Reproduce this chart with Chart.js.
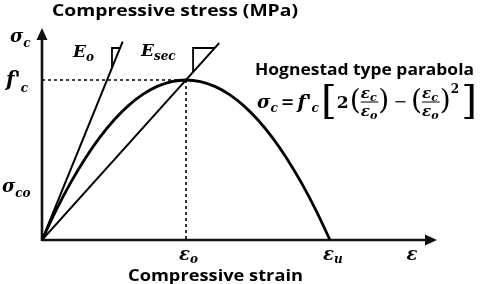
<!DOCTYPE html>
<html><head><meta charset="utf-8">
<script src="https://cdn.jsdelivr.net/npm/chart.js@4.4.1/dist/chart.umd.min.js"></script>
<style>html,body{margin:0;padding:0;background:#fff}#wrap{width:480px;height:284px}</style>
</head><body><div id="wrap"><canvas id="c" width="480" height="284"></canvas></div>
<script>
// ---- data (normalised: strain / eps_o , stress / f'c) ----
const strain = [0,0.1,0.2,0.3,0.4,0.5,0.6,0.7,0.8,0.9,1.0,1.1,1.2,1.3,1.4,1.5,1.6,1.7,1.8,1.9,2.0];
const stress = [0,0.19,0.36,0.51,0.64,0.75,0.84,0.91,0.96,0.99,1.0,0.99,0.96,0.91,0.84,0.75,0.64,0.51,0.36,0.19,0];
const tangentX = [0, 0.56];
const tangentY = [0, 1.24];
const secantX = [0, 1.23];
const secantY = [0, 1.23];
const peakX = [0, 1, 1];
const peakY = [1, 1, 0];
const e0TriX = [0.544, 0.486, 0.486];
const e0TriY = [1.2, 1.2, 1.071];
const secTriX = [1.2, 1.049, 1.049];
const secTriY = [1.2, 1.2, 1.049];
const axisMaxX = 2.743;
const axisMaxY = 1.325;
// axis labels: [main, subscript, value]
const yLabels = [['σ','c',1.27],["f'",'c',1.0],['σ','co',0.34]];
const xLabels = [['ε','o',1.0],['ε','u',2.0],['ε','',2.58]];
const titleY = 'Compressive stress (MPa)';
const titleX = 'Compressive strain';
const curveName = 'Hognestad type parabola';

const MATH = '"DejaVu Serif", "Liberation Serif", serif';
const SANS = '"Open Sans", "Noto Sans", sans-serif';
const pts = (xs, ys) => xs.map((v, i) => ({x: v, y: ys[i]}));

function fitText(ctx, text, left, right, baseline, font) {
  ctx.font = font;
  const w = ctx.measureText(text).width;
  ctx.save();
  ctx.translate(left, baseline);
  ctx.scale((right - left) / w, 1);
  ctx.fillText(text, 0, 0);
  ctx.restore();
}
function sym(ctx, x, y, main, sub, size, subSize, subDy) {
  ctx.font = `italic bold ${size}px ${MATH}`;
  ctx.fillText(main, x, y);
  const w = ctx.measureText(main).width;
  if (sub) {
    ctx.font = `italic bold ${subSize}px ${MATH}`;
    ctx.fillText(sub, x + w, y + subDy);
    return w + ctx.measureText(sub).width;
  }
  return w;
}

function drawEquation(ctx, left, right, base) {
  const bi = s => `italic bold ${s}px ${MATH}`;
  const b = s => `bold ${s}px ${MATH}`;
  const n = s => `${s}px ${MATH}`;
  const items = [
    {t:'σ', f:bi(18), dy:0}, {t:'c', f:bi(12), dy:4}, {gap:3},
    {t:'=', f:b(16), dy:-1}, {gap:3},
    {t:"f'", f:bi(19), dy:0}, {t:'c', f:bi(12), dy:4}, {gap:2},
    {t:'[', f:n(40), dy:5}, {t:'2', f:b(17), dy:0}, {gap:1},
    {t:'(', f:n(28), dy:1}, {frac:true}, {t:')', f:n(28), dy:1}, {gap:4},
    {t:'−', f:n(16), dy:-1}, {gap:4},
    {t:'(', f:n(28), dy:1}, {frac:true}, {t:')', f:n(28), dy:1},
    {t:'2', f:b(12), dy:-15}, {gap:2},
    {t:']', f:n(40), dy:5}
  ];
  const fracW = () => {
    ctx.font = bi(15); const e = ctx.measureText('ε').width;
    ctx.font = bi(11); const c = ctx.measureText('c').width, o = ctx.measureText('o').width;
    return e + Math.max(c, o) + 1;
  };
  let total = 0;
  for (const it of items) {
    if (it.gap) it.w = it.gap;
    else if (it.frac) it.w = fracW();
    else { ctx.font = it.f; it.w = ctx.measureText(it.t).width; }
    total += it.w;
  }
  ctx.save();
  ctx.translate(left, 0);
  ctx.scale((right - left) / total, 1);
  let x = 0;
  for (const it of items) {
    if (it.frac) {
      sym(ctx, x, base - 10, 'ε', 'c', 15, 11, 3);
      sym(ctx, x, base + 8, 'ε', 'o', 15, 11, 3);
      ctx.fillRect(x, base - 6.5, it.w, 1);
    } else if (!it.gap) {
      ctx.font = it.f;
      ctx.fillText(it.t, x, base + it.dy);
    }
    x += it.w;
  }
  ctx.restore();
}

const axesPlugin = {
  id: 'axesArrows',
  beforeDatasetsDraw(chart) {
    const {ctx, scales: {x, y}} = chart;
    const x0 = x.getPixelForValue(0), y0 = y.getPixelForValue(0);
    const xe = x.getPixelForValue(axisMaxX), ye = y.getPixelForValue(axisMaxY);
    ctx.save();
    ctx.strokeStyle = '#111'; ctx.fillStyle = '#111'; ctx.lineWidth = 2.6;
    ctx.beginPath();
    ctx.moveTo(x0, y0); ctx.lineTo(xe - 8, y0);
    ctx.moveTo(x0, y0 + 1); ctx.lineTo(x0, ye + 8);
    ctx.stroke();
    ctx.beginPath();
    ctx.moveTo(xe, y0); ctx.lineTo(xe - 12, y0 - 5.5); ctx.lineTo(xe - 12, y0 + 5.5); ctx.closePath(); ctx.fill();
    ctx.beginPath();
    ctx.moveTo(x0, ye); ctx.lineTo(x0 - 5.5, ye + 12); ctx.lineTo(x0 + 5.5, ye + 12); ctx.closePath(); ctx.fill();
    ctx.restore();
  },
  afterDraw(chart) {
    const {ctx, scales: {x, y}} = chart;
    ctx.save();
    ctx.fillStyle = '#000';
    ctx.textBaseline = 'alphabetic';
    // y labels: [left, dy, size, subSize, subDy]
    const yl = [[10, 5, 18, 12, 5], [6, 6, 20, 12, 6], [2, 6, 18, 12, 5]];
    yLabels.forEach((l, i) => {
      const py = y.getPixelForValue(l[2]);
      const c = yl[i];
      sym(ctx, c[0], py + c[1], l[0], l[1], c[2], c[3], c[4]);
    });
    // x labels
    xLabels.forEach(l => {
      const px = x.getPixelForValue(l[2]);
      sym(ctx, px - 7, 260, l[0], l[1], 18, 12, 3);
    });
    // modulus labels
    sym(ctx, 73, 57, 'E', 'o', 17, 12, 4);
    sym(ctx, 141, 56, 'E', 'sec', 17, 12, 4);
    // titles
    fitText(ctx, titleY, 52, 298, 16, `bold 16.5px ${SANS}`);
    fitText(ctx, titleX, 128, 303, 281, `bold 16.5px ${SANS}`);
    fitText(ctx, curveName, 255, 474, 75, `bold 16px ${SANS}`);
    drawEquation(ctx, 257, 477, 108);
    ctx.restore();
  }
};

const line = (data, extra) => Object.assign({
  data, showLine: true, borderColor: '#000', borderWidth: 2, pointRadius: 0, fill: false
}, extra || {});

new Chart(document.getElementById('c'), {
  type: 'scatter',
  data: {
    datasets: [
      line(pts(strain, stress), {borderWidth: 2.8, cubicInterpolationMode: 'monotone'}),
      line(pts(tangentX, tangentY)),
      line(pts(secantX, secantY)),
      line(pts(peakX, peakY), {borderWidth: 1.6, borderDash: [3, 3]}),
      line(pts(e0TriX, e0TriY), {borderWidth: 1.8}),
      line(pts(secTriX, secTriY), {borderWidth: 1.8})
    ]
  },
  options: {
    responsive: false,
    animation: false,
    devicePixelRatio: 1,
    layout: {padding: {left: 42, right: 43, top: 28, bottom: 44}},
    plugins: {legend: {display: false}, tooltip: {enabled: false}, title: {display: false}},
    scales: {
      x: {type: 'linear', min: 0, max: axisMaxX, display: false},
      y: {type: 'linear', min: 0, max: axisMaxY, display: false}
    }
  },
  plugins: [axesPlugin]
});
</script>
</body></html>
